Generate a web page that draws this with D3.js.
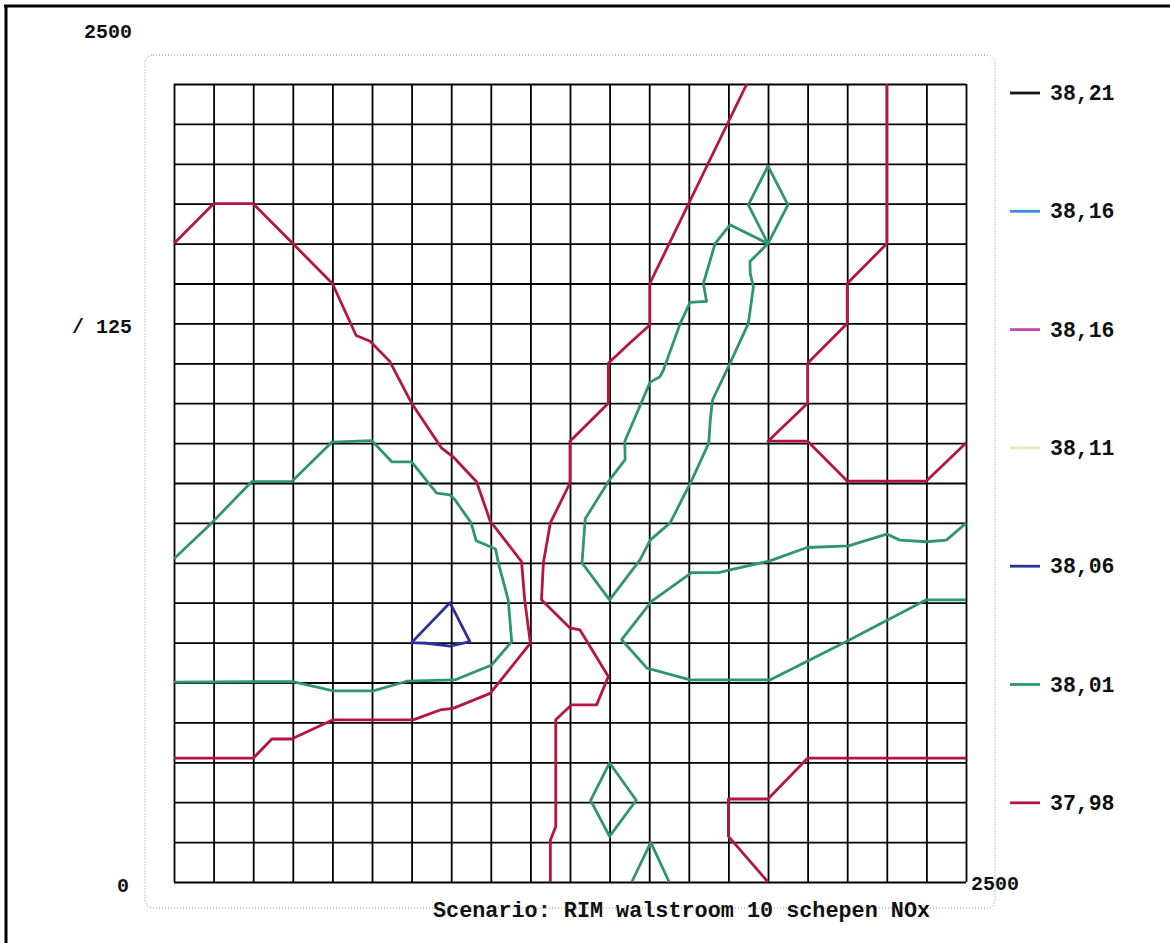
<!DOCTYPE html>
<html>
<head>
<meta charset="utf-8">
<title>Scenario: RIM walstroom 10 schepen NOx</title>
<style>
	body { margin: 0; background: #fff; }
	text { font-family: "Liberation Mono", "DejaVu Sans Mono", monospace; font-weight: bold; fill: #111; }
</style>
</head>
<body>
<script src="https://d3js.org/d3.v7.min.js"></script>
<script>
	// domain of the grid in metres, grid step 125 m
	var extent = 2500,
		step = 125;

	var yMaxLabel = "2500",
		stepLabel = "/ 125",
		originLabel = "0",
		xMaxLabel = "2500",
		title = "Scenario: RIM walstroom 10 schepen NOx";

	// legend: contour levels, top to bottom
	var levels = ["38,21", "38,16", "38,16", "38,11", "38,06", "38,01", "37,98"];
	var levelColors = ["#151515", "#3b8fd8", "#c24ab0", "#e8e9bc", "#2c3197", "#2f9472", "#b4163f"];

	// contour lines, points as [x, y] in metres
	var red1 = [[0,2000],[125,2125],[250,2125],[375,2000],[500,1875],[575,1712],[619,1694],[681,1631],
		[750,1500],[845,1359],[881,1332],[955,1254],[998,1131],[1097,1004],[1107,884],[1125,748],
		[998,591],[881,544],[840,539],[755,508],[502,508],[371,448],[309,448],[250,388],[0,388]];
	var red2 = [[1808,2500],[1502,1875],[1502,1745],[1438,1688],[1371,1625],[1371,1500],[1250,1381],
		[1250,1250],[1188,1125],[1166,1000],[1160,884],[1250,796],[1281,790],[1371,644],[1334,555],
		[1255,555],[1205,508],[1205,174],[1188,131],[1188,0]];
	var red3 = [[2250,2500],[2250,2000],[2125,1875],[2125,1750],[2000,1625],[2000,1500],[1875,1381],
		[2000,1381],[2125,1256],[2375,1256],[2500,1375]];
	var red4 = [[2500,388],[2000,388],[1875,260],[1750,260],[1750,143],[1875,0]];

	var greenA = [[0,1013],[119,1125],[245,1254],[371,1254],[498,1378],[624,1383],[688,1316],[750,1316],
		[829,1218],[871,1213],[888,1196],[938,1125],[954,1069],[1015,1043],[1025,995],[1055,884],
		[1066,753],[1003,680],[886,633],[735,629],[629,599],[503,599],[375,628],[0,626]];
	var greenB = [[1875,2000],[1755,2059],[1708,2000],[1671,1875],[1681,1819],[1629,1816],[1598,1750],
		[1545,1604],[1534,1583],[1503,1566],[1423,1381],[1424,1323],[1371,1254],[1298,1138],[1288,1000],
		[1375,884],[1471,1009],[1503,1071],[1566,1125],[1635,1260],[1688,1375],[1693,1450],[1700,1510],
		[1755,1625],[1813,1750],[1829,1865],[1819,1906],[1818,1944]];
	var greenKite = [[1875,2000],[1938,2121],[1875,2243],[1813,2121]];
	var greenC = [[2500,1124],[2438,1071],[2375,1066],[2291,1071],[2250,1090],[2129,1053],[1998,1048],
		[1881,1006],[1755,978],[1719,969],[1634,969],[1508,880],[1413,759],[1493,670],[1629,633],
		[1881,633],[2124,754],[2375,884],[2500,884]];
	var greenD = [[1375,373],[1459,256],[1375,143],[1315,256]];
	var greenE = [[1445,0],[1505,124],[1563,0]];
	var blue1 = [[871,875],[934,753],[871,739],[798,748],[750,750]];

	var contours = [
		{ level: 6, pts: red1 }, { level: 6, pts: red2 }, { level: 6, pts: red3 }, { level: 6, pts: red4 },
		{ level: 5, pts: greenA }, { level: 5, pts: greenB, closed: true }, { level: 5, pts: greenKite, closed: true },
		{ level: 5, pts: greenC }, { level: 5, pts: greenD, closed: true }, { level: 5, pts: greenE },
		{ level: 4, pts: blue1, closed: true }
	];

	var w = 1170,
		h = 943,
		plotL = 174, plotR = 966, plotT = 84, plotB = 882;

	var svg = d3.select("body").append("svg")
			.attr("width", w)
			.attr("height", h);

	// outer frame (only top and left visible on the scan)
	svg.append("line").attr("x1", 4).attr("y1", 6).attr("x2", w).attr("y2", 6)
		.attr("stroke", "#000").attr("stroke-width", 3);
	svg.append("line").attr("x1", 6).attr("y1", 5).attr("x2", 6).attr("y2", h)
		.attr("stroke", "#000").attr("stroke-width", 3);

	// dotted panel border
	svg.append("rect")
		.attr("x", 145).attr("y", 55).attr("width", 850).attr("height", 853).attr("rx", 8)
		.attr("fill", "none").attr("stroke", "#8a8a8a").attr("stroke-width", 1)
		.attr("stroke-dasharray", "1,2");

	var x = d3.scaleLinear().domain([0, extent]).range([plotL, plotR]);
	var y = d3.scaleLinear().domain([0, extent]).range([plotB, plotT]);

	var gridVals = d3.range(0, extent + 1, step);

	var gx = svg.append("g")
		.attr("transform", "translate(0," + plotB + ")")
		.call(d3.axisBottom(x).tickValues(gridVals).tickSize(-(plotB - plotT)).tickFormat(""));
	var gy = svg.append("g")
		.attr("transform", "translate(" + plotL + ",0)")
		.call(d3.axisLeft(y).tickValues(gridVals).tickSize(-(plotR - plotL)).tickFormat(""));
	[gx, gy].forEach(function(g) {
		g.select(".domain").remove();
		g.selectAll(".tick line").attr("stroke", "#000").attr("stroke-width", 1.8);
	});

	var line = d3.line()
		.x(function(d) { return x(d[0]); })
		.y(function(d) { return y(d[1]); });

	svg.append("g").selectAll("path")
		.data(contours)
		.enter()
		.append("path")
			.attr("d", function(d) { return line.curve(d.closed ? d3.curveLinearClosed : d3.curveLinear)(d.pts); })
			.attr("fill", "none")
			.attr("stroke", function(d) { return levelColors[d.level]; })
			.attr("stroke-width", 2.8)
			.attr("stroke-linejoin", "round");

	// corner labels
	svg.append("text").text(yMaxLabel).attr("x", 132).attr("y", 38)
		.attr("text-anchor", "end").attr("font-size", 20);
	svg.append("text").text(stepLabel).attr("x", 132).attr("y", 333)
		.attr("text-anchor", "end").attr("font-size", 20).attr("xml:space", "preserve");
	svg.append("text").text(originLabel).attr("x", 129).attr("y", 892)
		.attr("text-anchor", "end").attr("font-size", 20);
	svg.append("text").text(xMaxLabel).attr("x", 971).attr("y", 890)
		.attr("font-size", 20);

	svg.append("text").text(title).attr("x", 433).attr("y", 917)
		.attr("font-size", 21.8).attr("xml:space", "preserve");

	// legend
	var legend = svg.append("g").selectAll("g")
		.data(levels)
		.enter()
		.append("g")
			.attr("transform", function(d, i) { return "translate(1010," + (93 + i * 118.3) + ")"; });
	legend.append("line")
		.attr("x1", 0).attr("x2", 30)
		.attr("stroke", function(d, i) { return levelColors[i]; })
		.attr("stroke-width", 2.8);
	legend.append("text")
		.text(function(d) { return d; })
		.attr("x", 40).attr("y", 7)
		.attr("font-size", 21.5);
</script>
</body>
</html>
